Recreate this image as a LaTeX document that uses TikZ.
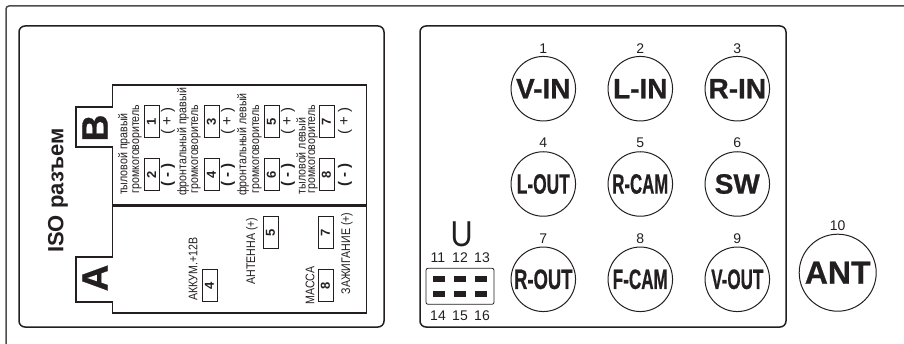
\documentclass[tikz,border=0pt]{standalone}
\usepackage{fontspec}
\setmainfont{Liberation Sans}
\newfontfamily\heavy[BoldFeatures={FakeBold=0.7}]{Liberation Sans}
\definecolor{ink}{HTML}{231F20}
\newcommand{\sq}[2]{\scalebox{#1}[1]{#2}}
\tikzset{
  panel/.style={draw=ink,line width=1.5pt,rounded corners=6pt},
  pinbox/.style={draw=ink,line width=1pt,fill=white,rotate=90,minimum width=32pt,minimum height=15pt,inner sep=0pt,font=\fontsize{13}{13}\selectfont\bfseries,text=ink},
  small/.style={rotate=90,inner sep=0pt,text=ink,font=\fontsize{12.5}{12.5}\selectfont},
  sign/.style={rotate=90,inner sep=0pt,text=ink,font=\fontsize{15}{15}\selectfont},
  jack/.style={circle,draw=ink,line width=1pt,minimum size=64.5pt,inner sep=0pt,text=ink,font=\fontsize{28}{28}\heavy\bfseries},
  num/.style={inner sep=0pt,text=ink,font=\fontsize{14}{14}\selectfont},
  pad/.style={fill=ink,draw=none,minimum width=12pt,minimum height=6pt,inner sep=0pt},
  big/.style={rotate=90,inner sep=0pt,text=ink,font=\fontsize{37}{37}\selectfont\heavy\bfseries}
}
\begin{document}
\begin{tikzpicture}[x=1pt,y=-1pt]
\useasboundingbox (0,0) rectangle (904,344);
% outer frame
\draw[draw=ink!80,line width=1.5pt,rounded corners=3pt] (6,344) -- (6,6) -- (904,6);
% panels
\draw[panel] (19,26) rectangle (384,327);
\draw[panel] (420,26) rectangle (786,327);
% ISO connector outline
\draw[draw=ink,line width=1.3pt] (112.5,85) -- (366.5,85) -- (366.5,313) -- (112.5,313) -- (112.5,302) -- (76,302) -- (76,257) -- (112.5,257) -- (112.5,147) -- (76,147) -- (76,107) -- (112.5,107) -- cycle;
\draw[draw=ink,line width=2.5pt] (113,205.5) -- (366,205.5);
\node[rotate=90,inner sep=0pt,text=ink,font=\fontsize{22}{22}\selectfont\bfseries] (iso) at (58,190.5) {ISO разъем};
\node[big] (bb) at (95,128) {B};
\node[big] (aa) at (95,278) {A};
% B pins
\foreach \n/\x/\y in {1/151.5/122,2/151.5/175,3/211.5/122,4/211.5/175,5/271.5/122,6/271.5/175,7/326.5/122,8/326.5/175}{
  \node[pinbox] (b\n) at (\x,\y) {\n};
}
\foreach \n/\x in {p1/168,p2/228,p3/288,p4/345}{
  \node[sign] (\n) at (\x,121) {( + )};
}
\foreach \n/\x in {m1/168,m2/228,m3/288,m4/345}{
  \node[sign,font=\fontsize{15}{15}\selectfont\bfseries] (\n) at (\x,175) {( - )};
}
\node[small] (t1) at (124,154) {\sq{.85}{тыловой правый}};
\node[small] (g1) at (137,149) {\sq{.85}{громкоговоритель}};
\node[small] (t2) at (183,142) {\sq{.85}{фронтальный правый}};
\node[small] (g2) at (196,149) {\sq{.85}{громкоговоритель}};
\node[small] (t3) at (243,144.5) {\sq{.85}{фронтальный левый}};
\node[small] (g3) at (257,149) {\sq{.85}{громкоговоритель}};
\node[small] (t4) at (301,156) {\sq{.85}{тыловой левый}};
\node[small] (g4) at (313,149) {\sq{.85}{громкоговоритель}};
% A pins
\node[pinbox] (a4) at (209.5,285.5) {4};
\node[pinbox] (a5) at (270.5,233) {5};
\node[pinbox] (a7) at (325.5,233) {7};
\node[pinbox] (a8) at (325.5,285.5) {8};
\node[small] (l4) at (193,269) {\sq{.85}{АККУМ.+12В}};
\node[small] (l5) at (252,251) {\sq{.85}{АНТЕННА (+)}};
\node[small] (l8) at (310,285.5) {\sq{.85}{МАССА}};
\node[small] (l7) at (347,253.5) {\sq{.85}{ЗАЖИГАНИЕ (+)}};
% jacks
\node[jack] (j1) at (543.3,88.7) {V-IN};
\node[jack] (j2) at (640.3,88.7) {L-IN};
\node[jack] (j3) at (737.3,88.7) {R-IN};
\node[jack] (j4) at (543.3,184) {\sq{.62}{L-OUT}};
\node[jack] (j5) at (640.3,184) {\sq{.6}{R-CAM}};
\node[jack] (j6) at (737.3,184) {SW};
\node[jack] (j7) at (543.3,279.3) {\sq{.66}{R-OUT}};
\node[jack] (j8) at (640.3,279.3) {\sq{.61}{F-CAM}};
\node[jack] (j9) at (737.3,279.3) {\sq{.61}{V-OUT}};
\node[jack,minimum size=77pt,font=\fontsize{32}{32}\heavy\bfseries] (j10) at (837.7,272.7) {ANT};
\foreach \n/\x/\y in {1/543.3/48.7,2/640.3/48.7,3/737.3/48.7,4/543.3/143,5/640.3/143,6/737.3/143,7/543.3/238.5,8/640.3/238.5,9/737.3/238.5,10/837.7/226}{
  \node[num] (n\n) at (\x,\y) {\n};
}
% U connector
\node[inner sep=0pt,text=ink,font=\fontsize{36}{36}\selectfont] (uu) at (461.7,234) {\sq{.85}{U}};
\node[draw=ink,line width=.8pt,rounded corners=2pt,minimum width=68pt,minimum height=36pt,inner sep=0pt] (ub) at (460,286.3) {};
\foreach \n/\x in {11/438,12/460,13/482}{\node[num] (n\n) at (\x,257.5) {\n};}
\foreach \n/\x in {14/438,15/460,16/482}{\node[num] (n\n) at (\x,316) {\n};}
\foreach \x [count=\i] in {439,460,481}{
  \node[pad] (pt\i) at (\x,279) {};
  \node[pad] (pb\i) at (\x,293.7) {};
}
\end{tikzpicture}
\end{document}
